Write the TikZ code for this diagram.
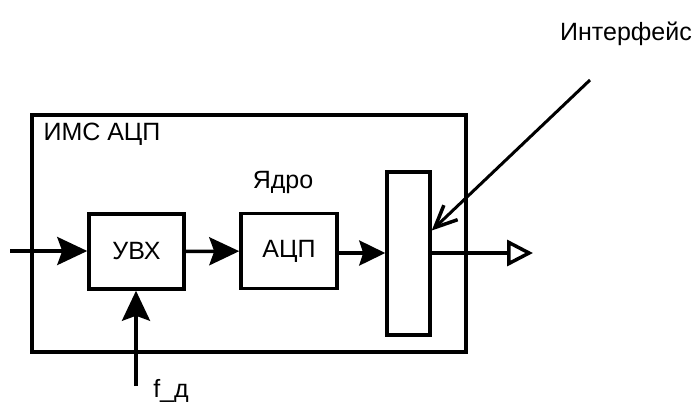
\documentclass[tikz,border=0pt]{standalone}
\usepackage{fontspec}
\setmainfont{Liberation Sans}
\usetikzlibrary{arrows.meta}

\begin{document}
\begin{tikzpicture}[x=1pt, y=-1pt,
		blk/.style={draw, line width=3.5pt, inner sep=0pt},
		sig/.style={line width=3.5pt, -{Stealth[length=30pt, width=28pt, inset=5pt]}},
		lbl/.style={font=\fontsize{25}{30}\selectfont}]
		\useasboundingbox (0,0) rectangle (693,408);

		% chip outline
		\node [blk, minimum width=434pt, minimum height=237pt] (ims) at (249, 233.5) {};
		\node [lbl, anchor=west] (imsname) at (40, 134) {ИМС АЦП};

		% blocks inside the chip
		\node [blk, lbl, minimum width=95pt, minimum height=75pt] (uvx) at (136.5, 251.5) {УВХ};
		\node [blk, lbl, minimum width=96pt, minimum height=75pt] (adc) at (289, 251) {АЦП};
		\node [blk, minimum width=43pt, minimum height=163pt] (reg) at (408.5, 253.5) {};
		\node [lbl] (core) at (283, 182) {Ядро};

		% free ends
		\coordinate (in) at (10, 251);
		\coordinate (out) at (533, 253);
		\coordinate (fd) at (136, 386);
		\coordinate (ifc) at (590, 80);
		\node [lbl] (ifcname) at (626, 34) {Интерфейс};
		\node [lbl] (fdname) at (171, 391) {f\_д};

		% signal path
		\draw [sig] (in) -- (uvx.west |- in);
		\draw [sig] (uvx) -- (adc);
		\draw [sig, -{Stealth[length=26pt, width=25pt, inset=4pt]}] (adc.east |- out) -- (reg.west |- out);
		\draw [line width=3.5pt, -{Triangle[open, length=26pt, width=26pt, line width=3.5pt]}] (reg.east |- out) -- (out);
		\draw [sig] (fd) -- (uvx.south -| fd);
		\draw [line width=3pt, -{Straight Barb[length=22pt, width=20pt, line width=3.5pt]}] (ifc) -- ([yshift=23pt]reg.east);
	\end{tikzpicture}
\end{document}
